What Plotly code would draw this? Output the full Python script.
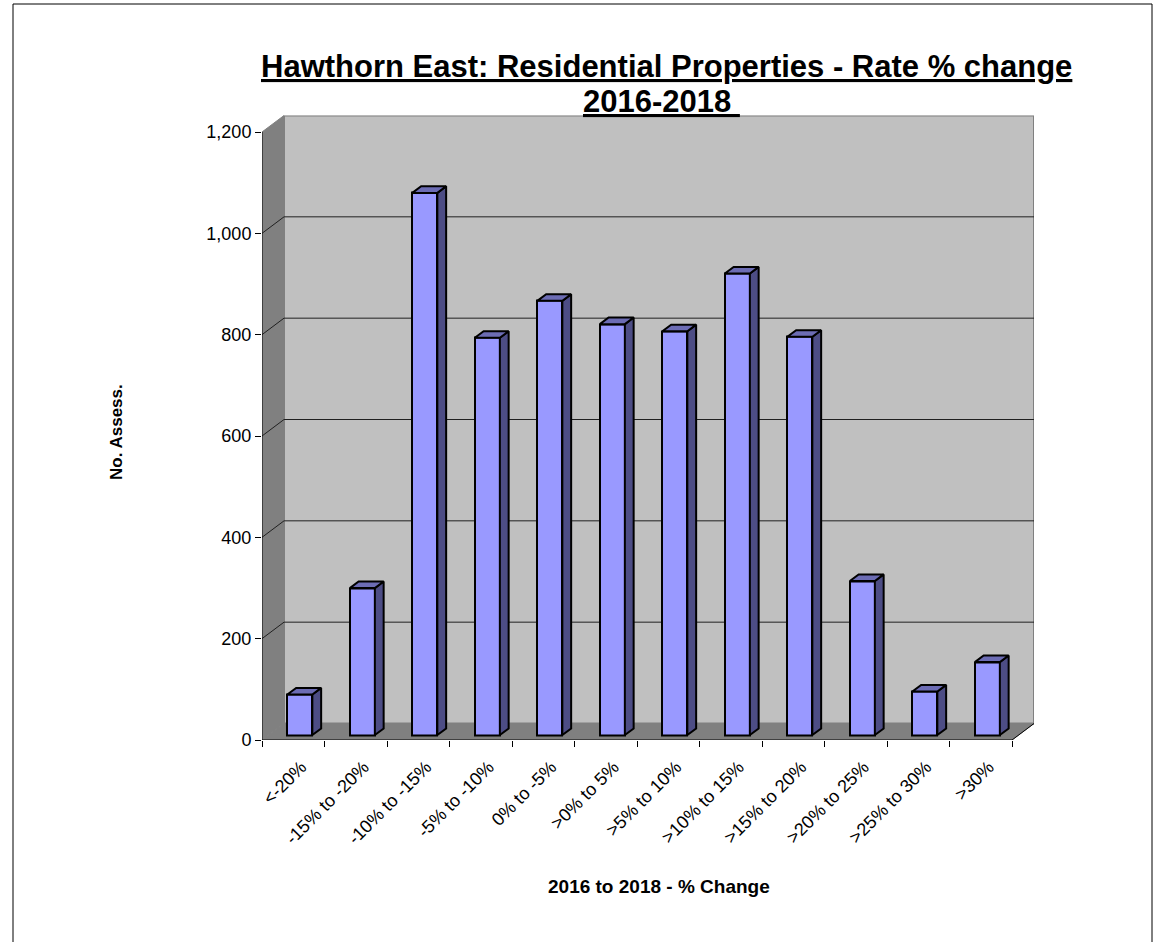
import plotly.graph_objects as go

# Assessment counts by rate change band, Hawthorn East residential properties
categories = ["<-20%", "-15% to -20%", "-10% to -15%", "-5% to -10%", "0% to -5%",
              ">0% to 5%", ">5% to 10%", ">10% to 15%", ">15% to 20%", ">20% to 25%",
              ">25% to 30%", ">30%"]
counts = [80, 290, 1070, 784, 857, 811, 797, 911, 786, 304, 86, 144]
y_ticks = [0, 200, 400, 600, 800, 1000, 1200]

W, H = 1154, 942

# Front plane of the 3-D plot area in pixels
X_LEFT, X_RIGHT = 262, 1012
Y_ZERO, Y_TOP = 740, 132
DEPTH_PX_X, DEPTH_PX_Y = 22, 16.5

n = len(categories)
px_per_cat = (X_RIGHT - X_LEFT) / n
px_per_unit = (Y_ZERO - Y_TOP) / y_ticks[-1]
DXc = DEPTH_PX_X / px_per_cat          # depth offset in category units
DYv = DEPTH_PX_Y / px_per_unit         # depth offset in value units

x_lo, x_hi = -0.5, n - 0.5
y_max = y_ticks[-1]

# column geometry: half width and front/back depth fractions
HALF = 0.2
F0, F1 = 0.3, 0.7

FRONT = "#9999FF"
SIDE = "#4D4D85"
TOP = "#6C6CB4"
WALL = "#C0C0C0"
DARK = "#808080"

fig = go.Figure()

# right side faces and top faces of the columns
side_x, side_y, top_x, top_y = [], [], [], []
for i, v in enumerate(counts):
    xr0 = i + HALF + F0 * DXc
    xr1 = i + HALF + F1 * DXc
    xl0 = i - HALF + F0 * DXc
    xl1 = i - HALF + F1 * DXc
    b0, b1 = F0 * DYv, F1 * DYv
    side_x += [xr0, xr1, xr1, xr0, xr0, None]
    side_y += [b0, b1, v + b1, v + b0, b0, None]
    top_x += [xl0, xr0, xr1, xl1, xl0, None]
    top_y += [v + b0, v + b0, v + b1, v + b1, v + b0, None]

fig.add_trace(go.Scatter(x=side_x, y=side_y, mode="lines", fill="toself",
                         fillcolor=SIDE, line=dict(color="black", width=2),
                         hoverinfo="skip", showlegend=False))
fig.add_trace(go.Scatter(x=top_x, y=top_y, mode="lines", fill="toself",
                         fillcolor=TOP, line=dict(color="black", width=2),
                         hoverinfo="skip", showlegend=False))

# front faces of the columns
fig.add_trace(go.Bar(
    x=[i + F0 * DXc for i in range(n)], y=counts, base=F0 * DYv,
    width=2 * HALF, marker=dict(color=FRONT, line=dict(color="black", width=2)),
    customdata=categories, hovertemplate="%{customdata}: %{y}<extra></extra>",
    showlegend=False))

shapes = []
# back wall
shapes.append(dict(type="rect", xref="x", yref="y", layer="below",
                   x0=x_lo + DXc, x1=x_hi + DXc, y0=DYv, y1=y_max + DYv,
                   fillcolor=WALL, line=dict(color=DARK, width=2)))
# left side wall
shapes.append(dict(type="path", xref="x", yref="y", layer="below",
                   path=f"M{x_lo},0 L{x_lo + DXc},{DYv} L{x_lo + DXc},{y_max + DYv} L{x_lo},{y_max} Z",
                   fillcolor=DARK, line=dict(color=DARK, width=1)))
# floor
shapes.append(dict(type="path", xref="x", yref="y", layer="below",
                   path=f"M{x_lo},0 L{x_hi},0 L{x_hi + DXc},{DYv} L{x_lo + DXc},{DYv} Z",
                   fillcolor=DARK, line=dict(color=DARK, width=1)))
# gridlines on the back and side walls
for v in y_ticks[1:-1]:
    shapes.append(dict(type="line", xref="x", yref="y", layer="below",
                       x0=x_lo + DXc, x1=x_hi + DXc, y0=v + DYv, y1=v + DYv,
                       line=dict(color="#202020", width=1)))
    shapes.append(dict(type="line", xref="x", yref="y", layer="below",
                       x0=x_lo, x1=x_lo + DXc, y0=v, y1=v + DYv,
                       line=dict(color="#202020", width=1)))
# axis lines: value axis, category axis and the floor's right edge
shapes.append(dict(type="line", xref="x", yref="y", x0=x_lo, x1=x_lo, y0=0, y1=y_max,
                   line=dict(color="black", width=1)))
shapes.append(dict(type="line", xref="x", yref="y", x0=x_lo, x1=x_hi, y0=0, y1=0,
                   line=dict(color="black", width=1)))
shapes.append(dict(type="line", xref="x", yref="y", x0=x_hi, x1=x_hi + DXc, y0=0, y1=DYv,
                   line=dict(color="black", width=1)))
# chart frame
shapes.append(dict(type="rect", xref="paper", yref="paper",
                   x0=13 / W, x1=1152 / W, y0=-0.05, y1=(H - 4) / H,
                   line=dict(color="black", width=1), fillcolor="rgba(0,0,0,0)"))

FONT = "Liberation Sans, Arial, sans-serif"

annotations = [
    dict(text="<b><u>Hawthorn East: Residential Properties - Rate % change</u></b>",
         x=666 / W, y=1 - 67 / H, xref="paper", yref="paper", showarrow=False,
         xanchor="center", yanchor="middle", font=dict(family=FONT, size=31, color="black")),
    dict(text="<b><u>2016-2018\u00a0</u></b>",
         x=661 / W, y=1 - 102 / H, xref="paper", yref="paper", showarrow=False,
         xanchor="center", yanchor="middle", font=dict(family=FONT, size=31, color="black")),
    dict(text="<b>No. Assess.</b>", textangle=-90,
         x=116 / W, y=1 - 432 / H, xref="paper", yref="paper", showarrow=False,
         xanchor="center", yanchor="middle", font=dict(family=FONT, size=17, color="black")),
    dict(text="<b>2016 to 2018 - % Change</b>",
         x=659 / W, y=1 - 886 / H, xref="paper", yref="paper", showarrow=False,
         xanchor="center", yanchor="middle", font=dict(family=FONT, size=19, color="black")),
]

fig.update_layout(
    width=W, height=H, margin=dict(l=0, r=0, t=0, b=0),
    paper_bgcolor="white", plot_bgcolor="rgba(0,0,0,0)",
    shapes=shapes, annotations=annotations, bargap=0,
    font=dict(family=FONT, size=17, color="black"),
    xaxis=dict(domain=[X_LEFT / W, (X_RIGHT + DEPTH_PX_X) / W],
               range=[x_lo, x_hi + DXc], automargin=False, fixedrange=True,
               showgrid=False, zeroline=False, showline=False,
               tickmode="array", tickvals=list(range(n)), ticktext=categories,
               tickangle=-45, ticks="", ticklabelshift=8, ticklabelstandoff=12,
               tickfont=dict(family=FONT, size=18, color="black"),
               minor=dict(tickmode="array", tickvals=[i - 0.5 for i in range(n + 1)],
                          ticks="outside", ticklen=6, tickcolor="black", tickwidth=1,
                          showgrid=False)),
    yaxis=dict(domain=[(H - Y_ZERO) / H, (H - (Y_TOP - DEPTH_PX_Y)) / H],
               range=[0, y_max + DYv], automargin=False, fixedrange=True,
               showgrid=False, zeroline=False, showline=False,
               tickmode="array", tickvals=y_ticks,
               ticktext=[f"{v:,}" for v in y_ticks],
               ticks="outside", ticklen=6, tickcolor="black", tickwidth=1,
               tickfont=dict(family=FONT, size=18, color="black")),
)

fig.write_html("out.html")
